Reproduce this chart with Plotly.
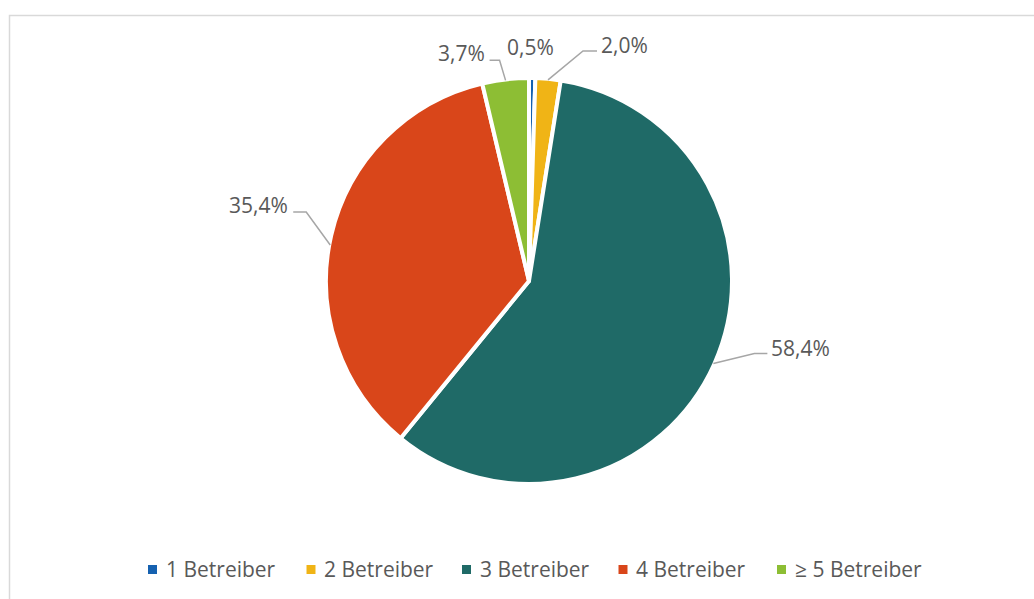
import math
import plotly.graph_objects as go

# ---- data ----
categories = ["1 Betreiber", "2 Betreiber", "3 Betreiber", "4 Betreiber", "\u2265 5 Betreiber"]
values = [0.5, 2.0, 58.4, 35.4, 3.7]
colors = ["#1561B0", "#F0B416", "#1F6A67", "#D9461A", "#8DBE34"]

# ---- layout constants (pixels) ----
W, H = 1034, 599
CX, CY, R = 529, 281, 203
TXT = "#595959"
LINE = "#A6A6A6"
FONT = "Open Sans, Noto Sans, sans-serif"
FS = 21

# label style per slice: anchor angle shift (deg), elbow offset from anchor (dx, dy),
# horizontal tail length (signed), show line
anchor_shift = [0, 0, 0, -2.7, 0]
elbow_dx = [0, 35, 41, -24, -6]
elbow_dy = [-32, -29, -10, -33, -20]
tail = [0, 14, 13, -13, -10]
show_line = [False, True, True, True, True]

# legend layout (pixel x of each square centre, row y, square size)
legend_x = [152.5, 311, 466.5, 623, 781.5]
LEG_Y = 569.5
SQ = 9


def px(x):
    return x / W


def py(y):
    return 1 - y / H


fig = go.Figure()
fig.add_trace(go.Pie(
    labels=categories, values=values, sort=False, direction="clockwise", rotation=0,
    marker=dict(colors=colors, line=dict(color="white", width=4)),
    textinfo="none", hoverinfo="label+percent", showlegend=False,
    domain=dict(x=[px(CX - R), px(CX + R)], y=[py(CY + R), py(CY - R)]),
))

shapes = []
annotations = []
total = sum(values)
cum = 0.0
for i, v in enumerate(values):
    mid = (cum + v / 2) / total * 2 * math.pi + math.radians(anchor_shift[i])
    cum += v
    ax = CX + (R - 1) * math.sin(mid)
    ay = CY - (R - 1) * math.cos(mid)
    ex = ax + elbow_dx[i]
    ey = ay + elbow_dy[i]
    tx = ex + tail[i]
    label = f"{v:.1f}".replace(".", ",") + "%"
    if show_line[i]:
        shapes.append(dict(type="path", xref="paper", yref="paper",
                           path=f"M {px(ax)},{py(ay)} L {px(ex)},{py(ey)} L {px(tx)},{py(ey)}",
                           line=dict(color=LINE, width=1.5)))
        if tail[i] >= 0:
            annotations.append(dict(x=px(tx + 2), y=py(ey - 6), xref="paper", yref="paper",
                                    text=label, showarrow=False, xanchor="left", yanchor="middle",
                                    font=dict(size=FS, color=TXT, family=FONT)))
        else:
            annotations.append(dict(x=px(tx - 3), y=py(ey - 7), xref="paper", yref="paper",
                                    text=label, showarrow=False, xanchor="right", yanchor="middle",
                                    font=dict(size=FS, color=TXT, family=FONT)))
    else:
        annotations.append(dict(x=px(ex - 2), y=py(ey), xref="paper", yref="paper",
                                text=label, showarrow=False, xanchor="center", yanchor="middle",
                                font=dict(size=FS, color=TXT, family=FONT)))

# custom legend: small squares + text
for c, col, lx in zip(categories, colors, legend_x):
    shapes.append(dict(type="rect", xref="paper", yref="paper",
                       x0=px(lx - SQ / 2), x1=px(lx + SQ / 2),
                       y0=py(LEG_Y + SQ / 2), y1=py(LEG_Y - SQ / 2),
                       fillcolor=col, line=dict(width=0)))
    annotations.append(dict(x=px(lx + 11), y=py(LEG_Y - 1), xref="paper", yref="paper",
                            text=c, showarrow=False, xanchor="left", yanchor="middle",
                            font=dict(size=FS, color=TXT, family=FONT)))

# chart area border
shapes.append(dict(type="rect", xref="paper", yref="paper",
                   x0=px(9.5), x1=1.1, y0=-0.1, y1=py(15.5),
                   line=dict(color="#D9D9D9", width=1.5), fillcolor="rgba(0,0,0,0)"))

fig.update_layout(
    width=W, height=H, margin=dict(l=0, r=0, t=0, b=0),
    paper_bgcolor="white", plot_bgcolor="white",
    shapes=shapes, annotations=annotations, showlegend=False,
)

fig.write_html("out.html", config={"displayModeBar": False},
               post_script="document.body.style.margin='0';document.body.style.overflow='hidden';")
